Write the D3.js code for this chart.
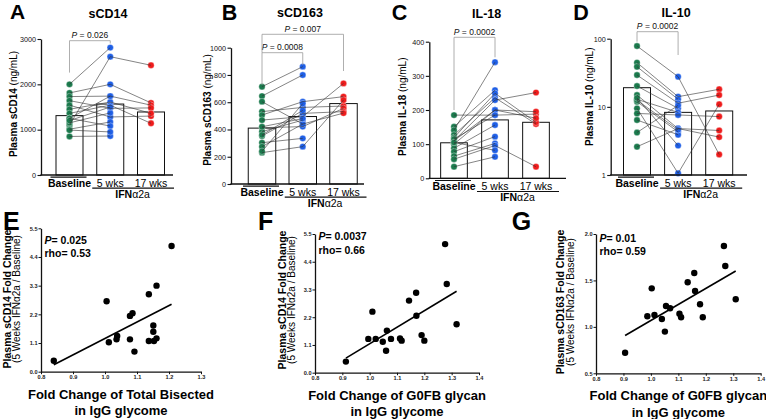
<!DOCTYPE html>
<html><head><meta charset="utf-8">
<script src="https://cdn.jsdelivr.net/npm/d3@7"></script>
<style>body{margin:0;background:#fff} svg{display:block;font-family:"Liberation Sans",Arial,Helvetica,sans-serif}</style>
</head><body><svg id="c" width="766" height="419"></svg>
<script>
// ---------- DATA ----------
const groups = ["Baseline", "5 wks", "17 wks"];

// Panel A: sCD14 (ng/mL)
const sCD14_base = [2000,1810,1100,1730,1640,1540,1450,1360,1250,1150,1010,850,1250,990,1200];
const sCD14_wk5  = [2810,2000,2610,1740,1470,1280,1610,1540,1740,1370,1170,860,1080,950,1500];
const sCD14_wk17 = [null,1590,2420,1540,1480,1300,1360,1140,null,null,null,null,null,null,null];
const sCD14_bars = [1310,1565,1390];
const sCD14_ticks = [0,1000,2000,3000];

// Panel B: sCD163 (ng/mL)
const sCD163_base = [714,645,604,531,506,469,413,384,352,303,274,230,420,360,240];
const sCD163_wk5  = [861,800,440,562,604,494,421,469,518,335,440,274,480,540,590];
const sCD163_wk17 = [null,null,null,572,641,738,555,null,531,null,520,616,null,null,null];
const sCD163_bars = [410,495,590];
const sCD163_ticks = [0,200,400,600,800,1000];

// Panel C: IL-18 (ng/mL)
const IL18_base = [185,151,141,127,119,110,100,88,78,65,56,34,110,115,105];
const IL18_wk5  = [185,258,340,236,249,229,200,156,122,102,96,63,200,185,82];
const IL18_wk17 = [188,null,null,159,164,251,195,null,null,null,34,null,176,null,null];
const IL18_bars = [104,171,164];
const IL18_ticks = [0,100,200,300,400];

// Panel D: IL-10 (ng/mL), log scale
const IL10_base = [78,44.5,38.8,29.3,20.2,14.9,12.9,11.9,9.5,8.0,6.4,4.2,2.6,12.5,13.5];
const IL10_wk5  = [27.7,14.1,12.9,11.3,9.5,4.8,8.3,4.3,1.06,7.6,3.9,10.5,4.8,4.6,2.7];
const IL10_wk17 = [2.0,18.1,null,14.9,null,4.5,null,null,10.9,7.2,null,null,3.6,null,null];
const IL10_bars = [19.1,8.3,8.7];
const IL10_ticks = [1,10,100];

// Panel E: sCD14 fold change vs total bisected fold change
const E_x = [0.84,1.005,1.012,1.036,1.038,1.078,1.086,1.078,1.092,1.137,1.137,1.153,1.151,1.151,1.161,1.161,1.208];
const E_y = [0.42,2.70,1.13,1.24,1.37,2.14,2.24,1.24,0.77,2.97,1.18,1.18,1.53,1.77,3.30,1.28,4.82];
// Panel F: sCD14 fold change vs G0FB fold change
const F_x = [0.913,0.995,1.01,1.022,1.048,1.06,1.063,1.078,1.111,1.117,1.144,1.17,1.171,1.19,1.2,1.276,1.282,1.318];
const F_y = [0.44,1.34,2.42,1.34,1.23,0.87,1.67,1.34,1.36,1.27,2.86,3.17,2.26,1.49,1.27,5.10,3.52,1.92];
// Panel G: sCD163 fold change vs G0FB fold change
const G_x = [0.906,0.987,1.003,1.013,1.04,1.051,1.055,1.07,1.104,1.11,1.134,1.158,1.161,1.179,1.189,1.266,1.271,1.309];
const G_y = [0.722,1.114,1.415,1.128,1.085,0.949,1.225,1.20,1.142,1.103,1.48,1.58,1.386,1.243,1.103,1.871,1.655,1.297];

const foldTicksY = [0,1.1,2.2,3.3,4.4,5.5];
const foldTicksX = [0.8,0.9,1.0,1.1,1.2,1.3,1.4];
const G_ticksY = [0.5,1.0,1.5,2.0];

// ---------- DRAW ----------
const svg = d3.select("#c");
const colors = ["#1b7a4d","#1f5fe6","#ee1b1b"];
const FONT = '"Liberation Sans",Arial,Helvetica,sans-serif';

function letter(t, x, y, size) {
  svg.append("text").attr("x", x).attr("y", y).attr("font-size", size).attr("font-weight", "bold").text(t);
}

function paired(o) {
  const g = svg.append("g");
  const y = (o.log ? d3.scaleLog() : d3.scaleLinear()).domain(o.domain).range([o.yBot, o.yTop]);
  const x = d3.scalePoint().domain(groups).range([o.c0, o.c2]);
  const bottom = o.yBot;
  g.selectAll("rect.bar").data(o.bars).join("rect")
    .attr("x", (d, i) => x(groups[i]) - o.barW / 2).attr("y", d => y(d))
    .attr("width", o.barW).attr("height", d => bottom - y(d))
    .attr("fill", "#fff").attr("stroke", "#111").attr("stroke-width", 1);
  const sets = [o.base, o.wk5, o.wk17];
  sets.forEach((arr, gi) => {
    g.selectAll(null).data(arr.filter(v => v != null)).join("circle")
      .attr("cx", x(groups[gi])).attr("cy", d => y(d)).attr("r", 3.2)
      .attr("fill", colors[gi]).attr("stroke", "#fff").attr("stroke-width", 0.35);
  });
  o.base.forEach((b, i) => {
    g.append("line").attr("x1", x(groups[0])).attr("y1", y(b))
      .attr("x2", x(groups[1])).attr("y2", y(o.wk5[i]))
      .attr("stroke", "#333").attr("stroke-width", 0.6);
    if (o.wk17[i] != null) {
      g.append("line").attr("x1", x(groups[1])).attr("y1", y(o.wk5[i]))
        .attr("x2", x(groups[2])).attr("y2", y(o.wk17[i]))
        .attr("stroke", "#333").attr("stroke-width", 0.6);
    }
  });
  const ax = d3.axisLeft(y).tickValues(o.ticks).tickSize(3.5).tickSizeOuter(0).tickPadding(1.5)
    .tickFormat(d3.format("d"));
  const ag = g.append("g").attr("transform", `translate(${o.x0},0)`).call(ax);
  ag.select(".domain").attr("stroke-width", 1.3).attr("stroke", "#111");
  ag.selectAll(".tick line").attr("stroke-width", 1.1).attr("stroke", "#111");
  ag.selectAll("text").attr("font-size", 7.2).attr("font-family", FONT).attr("fill", "#111");
  g.append("line").attr("x1", o.x0 - 0.6).attr("x2", o.xEnd).attr("y1", bottom).attr("y2", bottom)
    .attr("stroke", "#111").attr("stroke-width", 1.3);
  const cb = x(groups[0]);
  g.append("line").attr("x1", cb - 19).attr("x2", cb + 17).attr("y1", bottom + 2.2).attr("y2", bottom + 2.2)
    .attr("stroke", "#111").attr("stroke-width", 1.2);
  groups.forEach((gr, i) => {
    g.append("text").attr("x", x(gr)).attr("y", bottom + 12).attr("text-anchor", "middle")
      .attr("font-size", 10.5).attr("font-weight", i === 0 ? "bold" : "normal").text(gr);
  });
  const c1 = x(groups[1]), c2 = x(groups[2]);
  g.append("line").attr("x1", c1 - 18).attr("x2", c2 + 23).attr("y1", bottom + 13.2).attr("y2", bottom + 13.2)
    .attr("stroke", "#111").attr("stroke-width", 1.2);
  const it = g.append("text").attr("x", (c1 + c2) / 2 + 2).attr("y", bottom + 22.5).attr("text-anchor", "middle")
    .attr("font-size", 10.5);
  it.append("tspan").attr("font-weight", "bold").text("IFN");
  it.append("tspan").text("α2a");
  g.append("text").attr("x", o.titleX).attr("y", o.titleY).attr("text-anchor", "middle")
    .attr("font-size", 12.5).attr("font-weight", "bold").text(o.title);
  const yl = g.append("text").attr("transform", `translate(${o.ylX},${o.ylY}) rotate(-90)`)
    .attr("text-anchor", "middle").attr("dominant-baseline", "central").attr("font-size", 10);
  yl.append("tspan").attr("font-weight", "bold").text(o.ylBold);
  yl.append("tspan").text(" (ng/mL)");
  o.brackets.forEach(b => {
    const xa = x(groups[b.from]), xb = x(groups[b.to]);
    g.append("path").attr("d", `M${xa},${b.legL}V${b.y}H${xb}V${b.legR}`)
      .attr("fill", "none").attr("stroke", "#9a9a9a").attr("stroke-width", 0.8);
    const t = g.append("text").attr("x", (xa + xb) / 2).attr("y", b.y - 2.6).attr("text-anchor", "middle")
      .attr("font-size", 8.5).attr("fill", "#111");
    t.append("tspan").attr("font-style", "italic").text("P");
    t.append("tspan").text(" = " + b.p);
  });
}

paired({ base: sCD14_base, wk5: sCD14_wk5, wk17: sCD14_wk17, bars: sCD14_bars, ticks: sCD14_ticks,
  domain: [0, 3000], yTop: 39, yBot: 175, x0: 41, c0: 69.5, c2: 151, barW: 27, xEnd: 173,
  title: "sCD14", titleX: 108, titleY: 18, ylBold: "Plasma sCD14", ylX: 12.5, ylY: 104,
  brackets: [{ from: 0, to: 1, y: 40.7, legL: 72.6, legR: 43.5, p: "0.026" }] });

paired({ base: sCD163_base, wk5: sCD163_wk5, wk17: sCD163_wk17, bars: sCD163_bars, ticks: sCD163_ticks,
  domain: [0, 1000], yTop: 47.7, yBot: 184, x0: 231, c0: 262, c2: 343.5, barW: 27.5, xEnd: 364,
  title: "sCD163", titleX: 300, titleY: 17, ylBold: "Plasma sCD163", ylX: 206.7, ylY: 110,
  brackets: [{ from: 0, to: 1, y: 52.7, legL: 85, legR: 65, p: "0.0008" },
             { from: 0, to: 2, y: 34.3, legL: 52.7, legR: 71, p: "0.007" }] });

paired({ base: IL18_base, wk5: IL18_wk5, wk17: IL18_wk17, bars: IL18_bars, ticks: IL18_ticks,
  domain: [0, 400], yTop: 41.7, yBot: 178.3, x0: 429.3, c0: 454, c2: 536, barW: 26.7, xEnd: 566,
  title: "IL-18", titleX: 486.7, titleY: 18, ylBold: "Plasma IL-18", ylX: 401.7, ylY: 106.7,
  brackets: [{ from: 0, to: 1, y: 37.3, legL: 110, legR: 57.3, p: "0.0002" }] });

paired({ base: IL10_base, wk5: IL10_wk5, wk17: IL10_wk17, bars: IL10_bars, ticks: IL10_ticks, log: true,
  domain: [1, 100], yTop: 38.7, yBot: 175, x0: 610.7, c0: 637, c2: 719.2, barW: 27, xEnd: 747,
  title: "IL-10", titleX: 676, titleY: 17, ylBold: "Plasma IL-10", ylX: 589, ylY: 96.7,
  brackets: [{ from: 0, to: 1, y: 31.7, legL: 41.7, legR: 55, p: "0.0002" }] });

function scatter(o) {
  const g = svg.append("g");
  const x = d3.scaleLinear().domain(o.xDom).range([o.x0, o.x1]);
  const y = d3.scaleLinear().domain(o.yDom).range([o.y0, o.y1]);
  const pts = o.xs.map((v, i) => [v, o.ys[i]]);
  const mx = d3.mean(o.xs), my = d3.mean(o.ys);
  const sxy = d3.sum(pts, p => (p[0] - mx) * (p[1] - my));
  const sxx = d3.sum(pts, p => (p[0] - mx) ** 2);
  const slope = sxy / sxx, icpt = my - slope * mx;
  const [xmin, xmax] = d3.extent(o.xs);
  g.append("line").attr("x1", x(xmin)).attr("y1", y(icpt + slope * xmin))
    .attr("x2", x(xmax)).attr("y2", y(icpt + slope * xmax))
    .attr("stroke", "#000").attr("stroke-width", 1.6);
  g.selectAll("circle").data(pts).join("circle")
    .attr("cx", d => x(d[0])).attr("cy", d => y(d[1])).attr("r", 3.2).attr("fill", "#000");
  const ay = g.append("g").attr("transform", `translate(${o.x0},0)`)
    .call(d3.axisLeft(y).tickValues(o.yTicks).tickSize(2.5).tickSizeOuter(0).tickPadding(1).tickFormat(d3.format(".1f")));
  const axx = g.append("g").attr("transform", `translate(0,${o.y0})`)
    .call(d3.axisBottom(x).tickValues(o.xTicks).tickSize(2.5).tickSizeOuter(0).tickPadding(1).tickFormat(d3.format(".1f")));
  [ay, axx].forEach(a => {
    a.select(".domain").attr("stroke-width", 1.3).attr("stroke", "#111");
    a.selectAll(".tick line").attr("stroke", "#111").attr("stroke-width", 1);
    a.selectAll("text").attr("font-size", 5.6).attr("font-weight", "bold").attr("font-family", FONT).attr("fill", "#222");
  });
  const t1 = g.append("text").attr("x", o.x0 + 3.5).attr("y", o.statY).attr("font-size", 10.5).attr("font-weight", "bold");
  t1.append("tspan").attr("font-style", "italic").text("P");
  t1.append("tspan").text("= " + o.p);
  g.append("text").attr("x", o.x0 + 3.5).attr("y", o.statY + 13.5).attr("font-size", 10.5).attr("font-weight", "bold")
    .text("rho= " + o.rho);
  const xc = (o.x0 + o.x1) / 2;
  g.append("text").attr("x", xc).attr("y", o.y0 + 27).attr("text-anchor", "middle").attr("font-size", 13)
    .attr("font-weight", "bold").text(o.xl1);
  g.append("text").attr("x", xc).attr("y", o.y0 + 43.5).attr("text-anchor", "middle").attr("font-size", 13)
    .attr("font-weight", "bold").text("in IgG glycome");
  const yc = o.ylY;
  g.append("text").attr("transform", `translate(${o.ylX},${yc}) rotate(-90)`).attr("text-anchor", "middle")
    .attr("dominant-baseline", "central").attr("font-size", 10.5).attr("font-weight", "bold").text(o.yl1);
  g.append("text").attr("transform", `translate(${o.ylX + 10},${yc}) rotate(-90)`).attr("text-anchor", "middle")
    .attr("dominant-baseline", "central").attr("font-size", 10).text("(5 Weeks IFNα2a / Baseline)");
}

scatter({ xs: E_x, ys: E_y, xDom: [0.8, 1.3], yDom: [0, 5.5], x0: 41, x1: 201, y0: 371.7, y1: 228.3,
  xTicks: foldTicksX.slice(0, 6), yTicks: foldTicksY, p: "0.025", rho: "0.53", statY: 243.5,
  xl1: "Fold Change of Total Bisected", yl1: "Plasma sCD14 Fold Change", ylX: 6.8, ylY: 299 });
scatter({ xs: F_x, ys: F_y, xDom: [0.8, 1.4], yDom: [0, 5.5], x0: 315, x1: 479, y0: 372.7, y1: 234,
  xTicks: foldTicksX, yTicks: foldTicksY, p: "0.0037", rho: "0.66", statY: 240,
  xl1: "Fold Change of G0FB glycan", yl1: "Plasma sCD14 Fold Change", ylX: 281.7, ylY: 300 });
scatter({ xs: G_x, ys: G_y, xDom: [0.8, 1.4], yDom: [0.5, 2.0], x0: 596, x1: 760.7, y0: 373.3, y1: 234,
  xTicks: foldTicksX, yTicks: G_ticksY, p: "0.01", rho: "0.59", statY: 241.5,
  xl1: "Fold Change of G0FB glycan", yl1: "Plasma sCD163 Fold Change", ylX: 560, ylY: 302 });

letter("A", 10, 19.3, 21);
letter("B", 221.7, 19.5, 21.5);
letter("C", 391.7, 19.5, 21.5);
letter("D", 573.3, 19.5, 21.5);
letter("E", 3, 230, 25);
letter("F", 258, 230, 25);
letter("G", 511.7, 230, 25);
</script></body></html>
